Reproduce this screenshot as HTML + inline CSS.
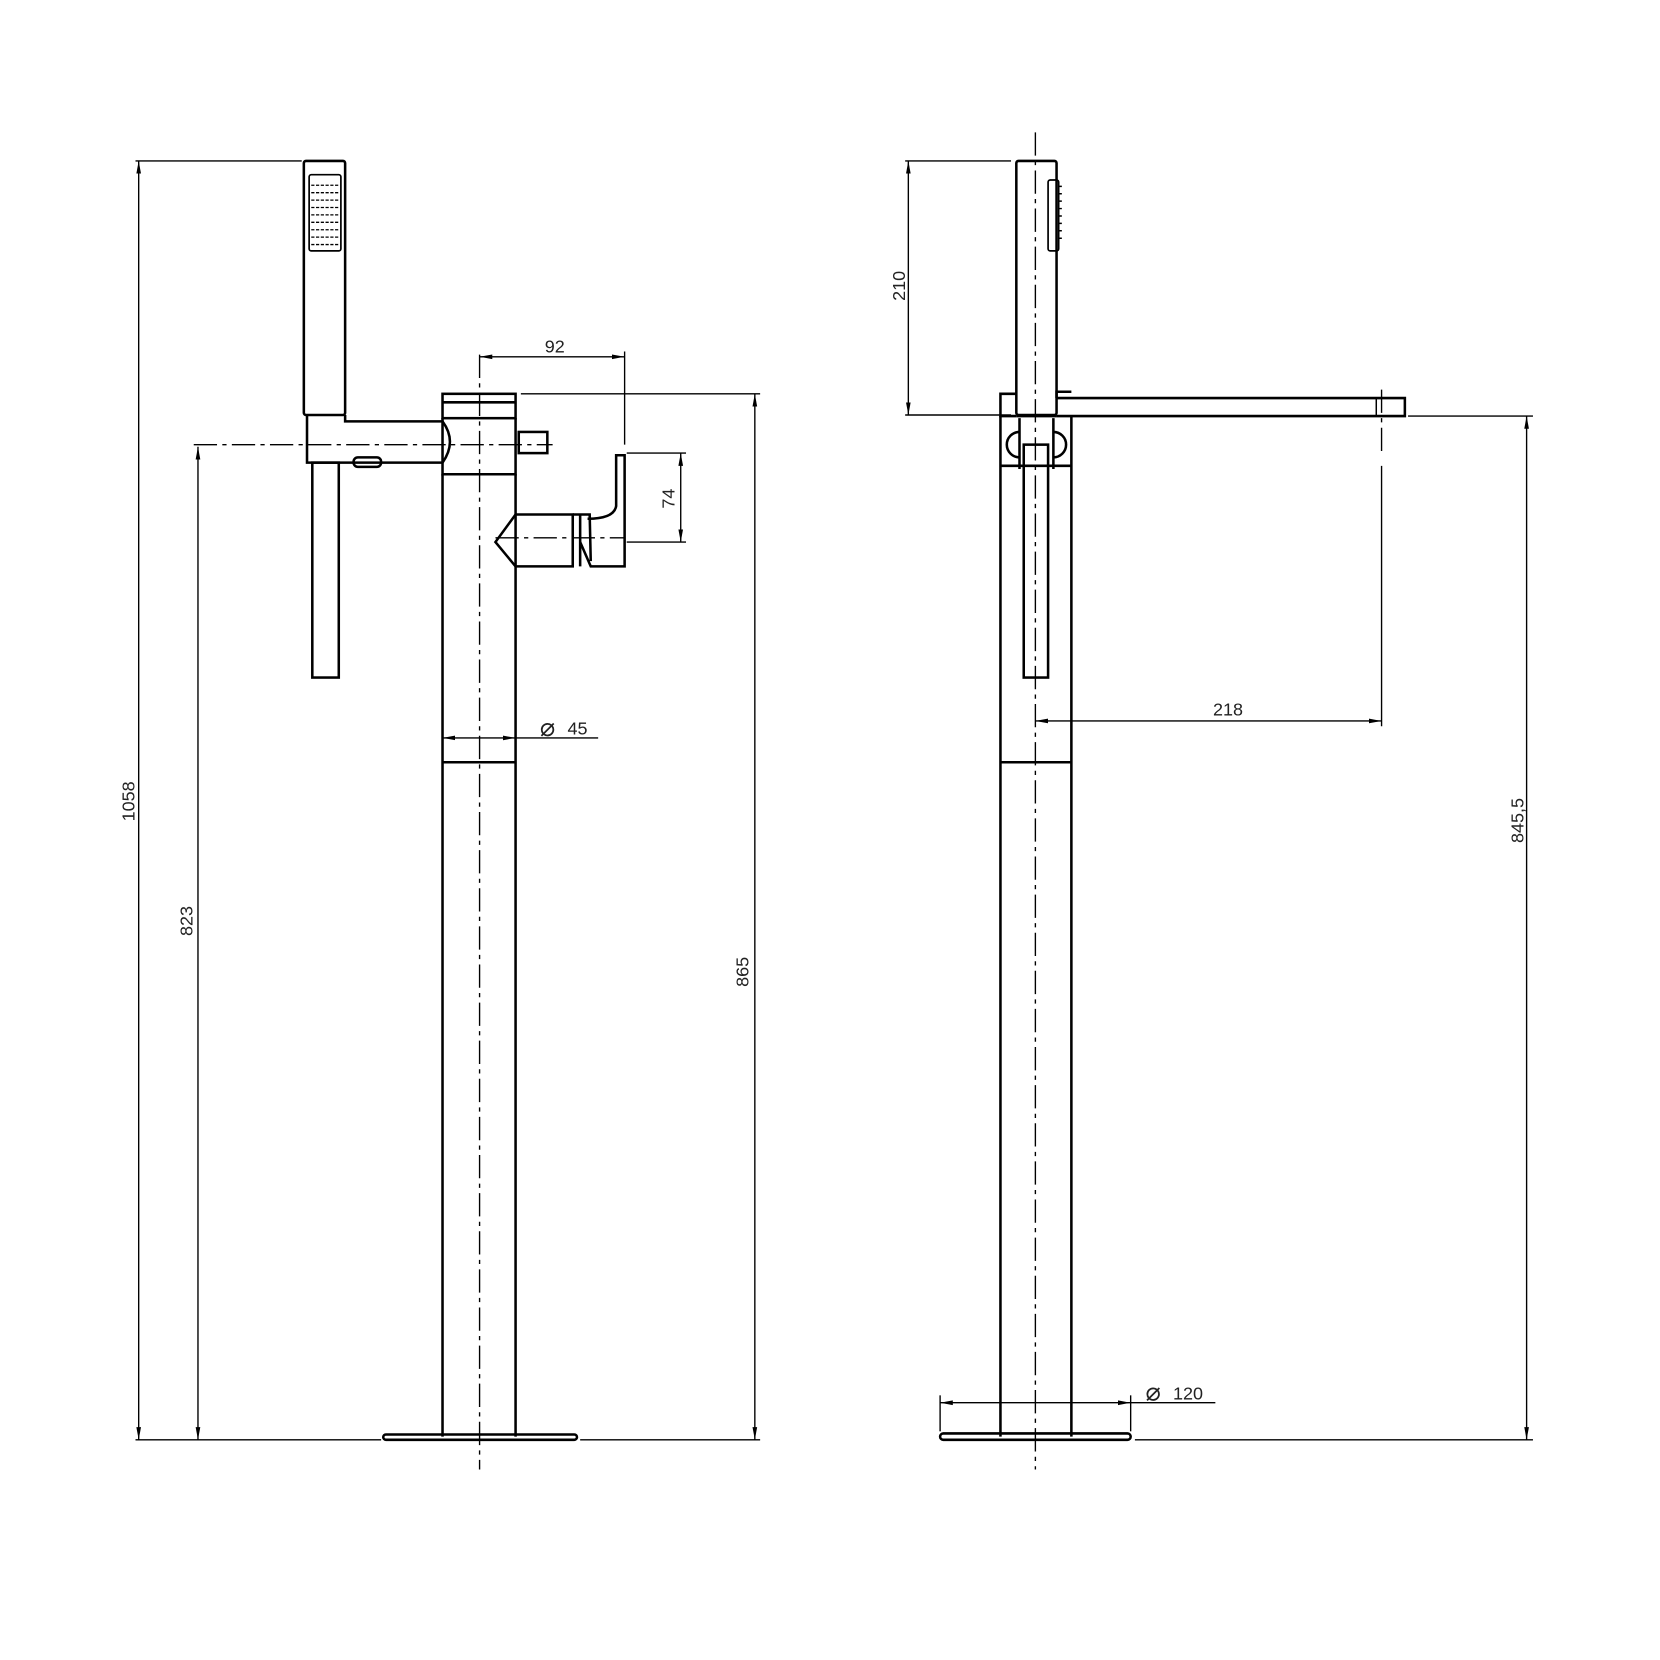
<!DOCTYPE html>
<html><head><meta charset="utf-8"><style>html,body{margin:0;padding:0;background:#fff}svg{display:block}</style></head>
<body>
<svg width="1660" height="1660" viewBox="0 0 1568 1568" xmlns="http://www.w3.org/2000/svg" font-family="Liberation Sans, sans-serif">
<defs>
<marker id="a" viewBox="0 0 12 6" refX="12" refY="3" markerWidth="12" markerHeight="6" markerUnits="userSpaceOnUse" orient="auto-start-reverse"><path d="M0,0.8 L12,3 L0,5.2z" fill="#000"/></marker>
</defs>
<g fill="none" stroke="#000" stroke-width="1.3">
<line x1="128" y1="152" x2="285" y2="152"/>
<line x1="128" y1="1360" x2="360" y2="1360"/>
<line x1="548" y1="1360" x2="718" y2="1360"/>
<line x1="131" y1="152" x2="131" y2="1360" marker-start="url(#a)" marker-end="url(#a)"/>
<line x1="187" y1="422" x2="187" y2="1360" marker-start="url(#a)" marker-end="url(#a)"/>
<line x1="492" y1="372" x2="718" y2="372"/>
<line x1="713" y1="372" x2="713" y2="1360" marker-start="url(#a)" marker-end="url(#a)"/>
<line x1="453" y1="337" x2="590" y2="337" marker-start="url(#a)" marker-end="url(#a)"/>
<line x1="590" y1="332" x2="590" y2="420"/>
<line x1="592" y1="428" x2="648" y2="428"/>
<line x1="592" y1="512" x2="648" y2="512"/>
<line x1="643" y1="428" x2="643" y2="512" marker-start="url(#a)" marker-end="url(#a)"/>
<line x1="418" y1="697" x2="487" y2="697" marker-start="url(#a)" marker-end="url(#a)"/>
<line x1="487" y1="697" x2="565" y2="697"/>
</g>
<g fill="none" stroke="#000" stroke-width="1.3" stroke-dasharray="22,5,4,5">
<line x1="453" y1="335" x2="453" y2="1388"/>
<line x1="183" y1="420" x2="522" y2="420"/>
<line x1="468" y1="508" x2="590" y2="508"/>
<line x1="978" y1="125" x2="978" y2="1388"/>
<line x1="1305" y1="368" x2="1305" y2="430"/>
</g>
<g fill="none" stroke="#000" stroke-width="2.4">
<rect x="287" y="152" width="39" height="240" rx="2"/>
<rect x="292" y="165" width="30" height="72" rx="2" stroke-width="1.6"/>
<path d="M294,175 H320 M294,182 H320 M294,189 H320 M294,196 H320 M294,203 H320 M294,210 H320 M294,217 H320 M294,224 H320 M294,231 H320" stroke-width="1.2" stroke-dasharray="3,1.5"/>
<path d="M290,392 L290,437 L418,437 M326,392 L326,398 L418,398"/>
<path d="M418,398 Q432,417 418,437" />
<rect x="295" y="437" width="25" height="203"/>
<rect x="334" y="432" width="26" height="9" rx="4"/>
<rect x="418" y="372" width="69" height="23"/>
<line x1="418" y1="380" x2="487" y2="380"/>
<path d="M418,395 L418,448 L487,448 L487,395"/>
<rect x="490" y="408" width="27" height="20"/>
<line x1="418" y1="448" x2="418" y2="1357"/>
<line x1="487" y1="448" x2="487" y2="1357"/>
<line x1="418" y1="720" x2="487" y2="720"/>
<rect x="362" y="1355" width="183" height="5" rx="2.5"/>
<path d="M487,486 L541,486 L541,535 L487,535 L468,512 L487,486"/>
<path d="M541,486 L557,486 L558,530 M548,486 L548,535"/>
<path d="M555,490 Q580,490 582,478 L582,430 L590,430 L590,535 L558,535 L548,512"/>
<rect x="960" y="152" width="38" height="240" rx="2"/>
<rect x="990" y="170" width="10" height="67" rx="2" stroke-width="1.6"/>
<path d="M1000,176 h3 M1000,183 h3 M1000,190 h3 M1000,197 h3 M1000,204 h3 M1000,211 h3 M1000,218 h3 M1000,225 h3" stroke-width="1.4"/>
<path d="M998,376 L1327,376 L1327,393 L998,393"/>
<line x1="1300" y1="376" x2="1300" y2="393" stroke-width="1.4"/>
<path d="M998,376 L998,370 L1012,370"/>
<path d="M960,372 L945,372 L945,393 L960,393"/>
<path d="M945,393 L945,1357 M1012,393 L1012,1357"/>
<line x1="945" y1="440" x2="1012" y2="440"/>
<line x1="960" y1="393" x2="998" y2="393"/>
<path d="M963,395 L963,443 M995,395 L995,443"/>
<path d="M963,408 A12,12 0 0 0 963,432 M995,408 A12,12 0 0 1 995,432"/>
<rect x="967" y="420" width="23" height="220"/>
<line x1="945" y1="720" x2="1012" y2="720"/>
<rect x="888" y="1354" width="180" height="6" rx="3"/>
</g>
<g fill="none" stroke="#000" stroke-width="1.3">
<line x1="855" y1="152" x2="955" y2="152"/>
<line x1="855" y1="392" x2="955" y2="392"/>
<line x1="858" y1="152" x2="858" y2="392" marker-start="url(#a)" marker-end="url(#a)"/>
<line x1="1305" y1="440" x2="1305" y2="686"/>
<line x1="978" y1="681" x2="1305" y2="681" marker-start="url(#a)" marker-end="url(#a)"/>
<line x1="1330" y1="393" x2="1448" y2="393"/>
<line x1="1072" y1="1360" x2="1448" y2="1360"/>
<line x1="1442" y1="393" x2="1442" y2="1360" marker-start="url(#a)" marker-end="url(#a)"/>
<line x1="888" y1="1318" x2="888" y2="1352"/>
<line x1="1068" y1="1318" x2="1068" y2="1352"/>
<line x1="888" y1="1325" x2="1068" y2="1325" marker-start="url(#a)" marker-end="url(#a)"/>
<line x1="1068" y1="1325" x2="1148" y2="1325"/>
</g>
<g fill="#222" font-size="17">
<text x="524" y="333" text-anchor="middle">92</text>
<text transform="translate(637,471) rotate(-90)" text-anchor="middle">74</text>
<text x="510" y="695" font-size="24">⌀</text><text x="536" y="694">45</text>
<text transform="translate(127,757) rotate(-90)" text-anchor="middle">1058</text>
<text transform="translate(182,870) rotate(-90)" text-anchor="middle">823</text>
<text transform="translate(707,918) rotate(-90)" text-anchor="middle">865</text>
<text transform="translate(855,270) rotate(-90)" text-anchor="middle">210</text>
<text x="1160" y="676" text-anchor="middle">218</text>
<text transform="translate(1439,775) rotate(-90)" text-anchor="middle">845,5</text>
<text x="1082" y="1323" font-size="24">⌀</text><text x="1108" y="1322">120</text>
</g>
</svg>
</body></html>
